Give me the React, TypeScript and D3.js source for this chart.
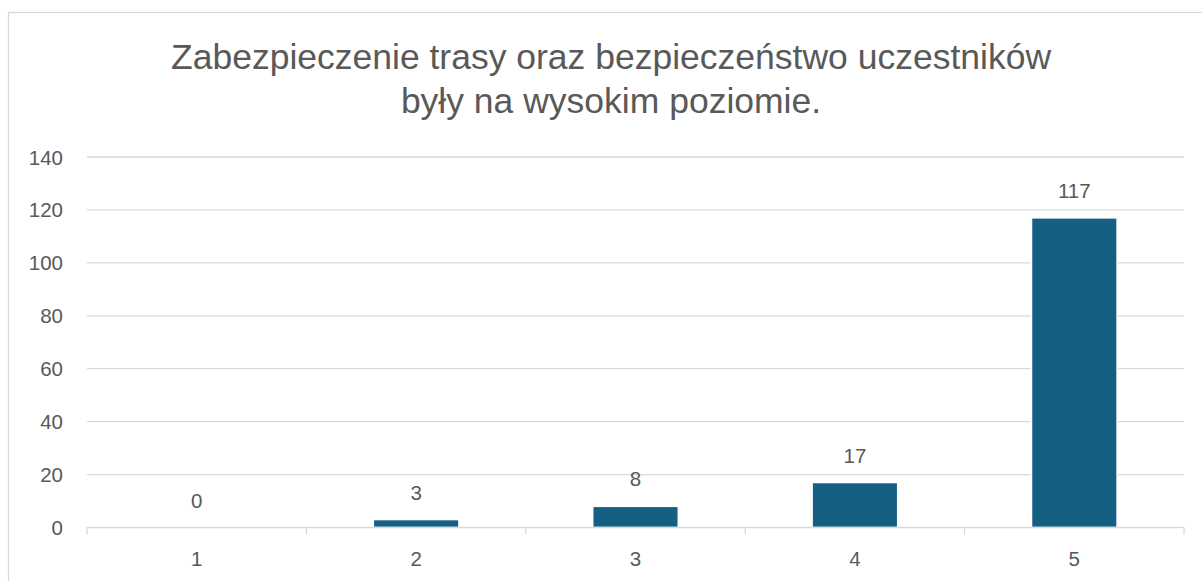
import React from "react";
import * as d3 from "d3";

const categories: string[] = ["1", "2", "3", "4", "5"];
const values: number[] = [0, 3, 8, 17, 117];
const yTicks: number[] = [0, 20, 40, 60, 80, 100, 120, 140];
const titleLines: string[] = [
  "Zabezpieczenie trasy oraz bezpieczeństwo uczestników",
  "były na wysokim poziomie.",
];

const W = 1202;
const H = 581;
const left = 87;
const right = 1184;
const top = 157;
const bottom = 527.5;
const textColor = "#595959";
const gridColor = "#d9d9d9";
const barColor = "#156082";
const font = "'Liberation Sans', Arial, sans-serif";

export default function App() {
  const x = d3.scaleBand<string>().domain(categories).range([left, right]).paddingInner(0.61).paddingOuter(0.305);
  const xOuter = d3.scaleBand<string>().domain(categories).range([left, right]);
  const y = d3.scaleLinear().domain([0, 140]).range([bottom, top]);
  const boundaries = [...categories.map((c) => xOuter(c) as number), right];

  return (
    <svg width={W} height={H} style={{ position: "absolute", left: 0, top: 0, display: "block" }}>
      <rect x={0} y={0} width={W} height={H} fill="#ffffff" />
      <rect x={8.5} y={12.5} width={W + 20} height={H + 20} fill="#ffffff" stroke={gridColor} strokeWidth={1.3} />
      {titleLines.map((t, i) => (
        <text key={i} x={611} y={69 + i * 44} textAnchor="middle" fill={textColor} fontFamily={font} fontSize={35.5}>
          {t}
        </text>
      ))}
      {yTicks.map((t) => (
        <g key={t}>
          {t !== 0 && <line x1={left} x2={right} y1={y(t)} y2={y(t)} stroke={gridColor} strokeWidth={1.3} />}
          <text x={63} y={y(t) + 7.5} textAnchor="end" fill={textColor} fontFamily={font} fontSize={20.5}>
            {t}
          </text>
        </g>
      ))}
      {categories.map((c, i) => (
        <rect
          key={c}
          x={x(c)}
          y={y(values[i])}
          width={x.bandwidth()}
          height={bottom - y(values[i])}
          fill={barColor}
          stroke="#ffffff"
          strokeWidth={1.5}
        />
      ))}
      <line x1={left} x2={right} y1={bottom} y2={bottom} stroke={gridColor} strokeWidth={1.3} />
      {boundaries.map((b, i) => (
        <line key={i} x1={b} x2={b} y1={bottom} y2={bottom + 7} stroke={gridColor} strokeWidth={1.3} />
      ))}
      {categories.map((c, i) => (
        <g key={c}>
          <text x={(x(c) as number) + x.bandwidth() / 2} y={y(values[i]) - 20} textAnchor="middle" fill={textColor} fontFamily={font} fontSize={20.5}>
            {values[i]}
          </text>
          <text x={(x(c) as number) + x.bandwidth() / 2} y={bottom + 38} textAnchor="middle" fill={textColor} fontFamily={font} fontSize={20.5}>
            {c}
          </text>
        </g>
      ))}
    </svg>
  );
}
